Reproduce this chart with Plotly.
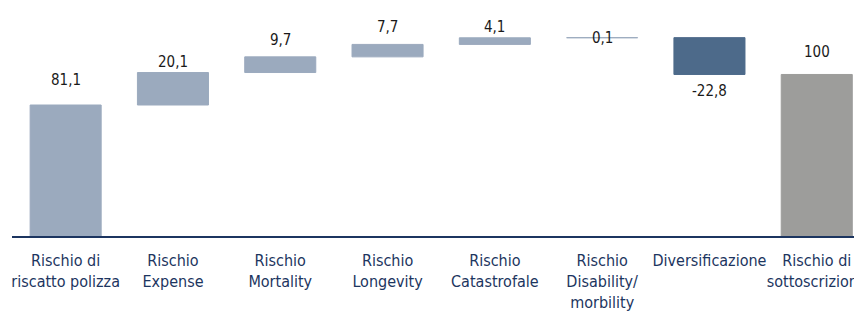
import plotly.graph_objects as go

categories = ["Rischio di<br>riscatto polizza", "Rischio<br>Expense", "Rischio<br>Mortality",
              "Rischio<br>Longevity", "Rischio<br>Catastrofale", "Rischio<br>Disability/<br>morbility",
              "Diversificazione", "Rischio di<br>sottoscrizione"]
values = [81.1, 20.1, 9.7, 7.7, 4.1, 0.1, -22.8, 100]
measures = ["relative"] * 7 + ["total"]
value_labels = ["81,1", "20,1", "9,7", "7,7", "4,1", "0,1", "-22,8", "100"]

LIGHT = "#9BAABE"
DARK = "#4D6A8A"
GREY = "#9D9D9B"
NAVY = "#1C3560"
FONT = "DejaVu Sans Condensed, Liberation Sans Narrow, sans-serif"

x = list(range(len(categories)))

fig = go.Figure(go.Waterfall(
    x=x, y=values, measure=measures,
    increasing=dict(marker=dict(color=LIGHT, line=dict(color=LIGHT, width=1))),
    decreasing=dict(marker=dict(color=DARK, line=dict(color=DARK, width=1))),
    totals=dict(marker=dict(color=GREY, line=dict(color=GREY, width=1))),
    connector=dict(visible=False),
    width=0.662,
    textinfo="none",
    hoverinfo="skip",
))

# label positions: anchored at bar top (or bottom for negative), with pixel offsets
label_shift = [25, 11, 17, 17, 11, 0, -17, 22]
running = 0
for i, (v, m, lab) in enumerate(zip(values, measures, value_labels)):
    if m == "total":
        anchor = v
    else:
        start = running
        running += v
        anchor = max(start, running) if v >= 0 else min(start, running)
    fig.add_annotation(x=i, y=anchor, text=lab, showarrow=False, yanchor="middle",
                       yshift=label_shift[i], font=dict(size=15, color="#1a1a1a", family=FONT))

fig.update_layout(
    width=854, height=315,
    margin=dict(l=12, r=0, t=0, b=79),
    paper_bgcolor="white", plot_bgcolor="white",
    showlegend=False,
    font=dict(family=FONT, size=16, color=NAVY),
    xaxis=dict(tickmode="array", tickvals=x, ticktext=categories,
               range=[-0.5, -0.5 + 842 / 107.3],
               showline=True, linecolor=NAVY, linewidth=2,
               ticks="", showgrid=False, zeroline=False, tickangle=0,
               tickfont=dict(size=16, color=NAVY, family=FONT),
               ticklabelstandoff=9, automargin=False,
               ticklabeloverflow="allow"),
    yaxis=dict(range=[0, 146.1], visible=False, showgrid=False, zeroline=False,
               automargin=False),
)

fig.write_html("out.html", config={"displayModeBar": False},
               post_script="document.body.style.margin='0';")
